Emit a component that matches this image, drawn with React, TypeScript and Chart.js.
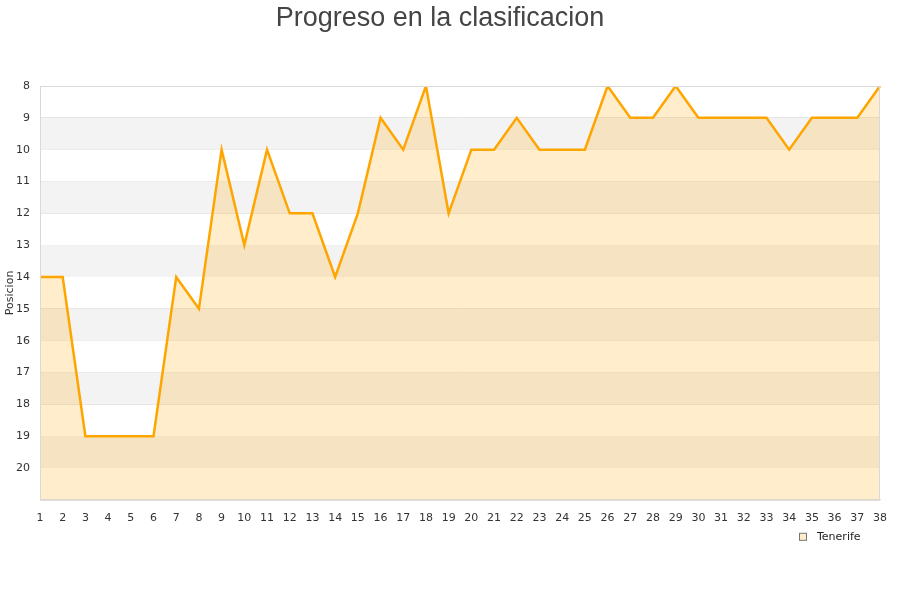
import React, { useEffect, useRef } from "react";
import { Chart, registerables } from "chart.js";

Chart.register(...registerables);

const rounds: string[] = Array.from({ length: 38 }, (_, i) => String(i + 1));
const positions: number[] = [
  14, 14, 19, 19, 19, 19, 14, 15, 10, 13,
  10, 12, 12, 14, 12, 9, 10, 8, 12, 10,
  10, 9, 10, 10, 10, 8, 9, 9, 8, 9,
  9, 9, 9, 10, 9, 9, 9, 8,
];
const greyBands: [number, number][] = [
  [9, 10], [11, 12], [13, 14], [15, 16], [17, 18], [19, 20],
];
const seriesName = "Tenerife";
const yMin = 8;
const yMax = 21;

const bandsPlugin = {
  id: "bands",
  beforeDatasetsDraw(chart: any) {
    const { ctx, chartArea, scales } = chart;
    const y = scales.y;
    ctx.save();
    ctx.fillStyle = "#f3f3f3";
    for (const [a, b] of greyBands) {
      const p1 = y.getPixelForValue(a);
      const p2 = y.getPixelForValue(b);
      ctx.fillRect(chartArea.left, Math.min(p1, p2), chartArea.right - chartArea.left, Math.abs(p2 - p1));
    }
    ctx.restore();
  },
  afterDraw(chart: any) {
    const { ctx, chartArea } = chart;
    ctx.save();
    ctx.strokeStyle = "#d9d9d9";
    ctx.lineWidth = 1;
    ctx.strokeRect(chartArea.left + 0.5, chartArea.top + 0.5, chartArea.right - chartArea.left - 1, chartArea.bottom - chartArea.top);
    // legend (bottom right)
    const lx = chartArea.right - 81;
    const ly = chartArea.bottom + 37;
    ctx.fillStyle = "#FFEDCC";
    ctx.strokeStyle = "#777";
    ctx.fillRect(lx, ly - 4, 8, 8);
    ctx.strokeRect(lx + 0.5, ly - 3.5, 7, 7);
    ctx.fillStyle = "#222";
    ctx.font = "11px 'DejaVu Sans', sans-serif";
    ctx.textBaseline = "middle";
    ctx.textAlign = "left";
    ctx.fillText(seriesName, lx + 18, ly);
    ctx.restore();
  },
};

export default function App() {
  const ref = useRef<HTMLCanvasElement>(null);
  useEffect(() => {
    if (!ref.current) return;
    const chart = new Chart(ref.current, {
      type: "line",
      data: {
        labels: rounds,
        datasets: [
          {
            label: seriesName,
            data: positions,
            borderColor: "#FFA500",
            backgroundColor: "rgba(255,165,0,0.2)",
            borderWidth: 2.5,
            pointRadius: 0,
            tension: 0,
            fill: { value: yMax },
          },
        ],
      },
      options: {
        animation: false,
        responsive: false,
        maintainAspectRatio: false,
        layout: { padding: { left: 0, right: 20, top: 0, bottom: 71 } },
        plugins: {
          title: {
            display: true,
            text: "Progreso en la clasificacion",
            color: "#444444",
            font: { family: "'Liberation Sans', Arial, sans-serif", size: 27, weight: "normal" },
            padding: { top: 2, bottom: 51.6 },
          },
          legend: { display: false },
          tooltip: { enabled: false },
        },
        scales: {
          x: {
            offset: false,
            grid: { display: false },
            border: { display: true, color: "#d9d9d9" },
            ticks: {
              color: "#333",
              font: { family: "'DejaVu Sans', sans-serif", size: 11 },
              maxRotation: 0,
              autoSkip: false,
              padding: 4,
            },
          },
          y: {
            reverse: true,
            min: yMin,
            max: yMax,
            afterFit: (axis: any) => {
              axis.width = 40;
            },
            grid: { color: "#e3e3e3", drawTicks: false },
            border: { display: true, color: "#d9d9d9" },
            title: {
              display: true,
              text: "Posicion",
              color: "#333",
              font: { family: "'DejaVu Sans', sans-serif", size: 11 },
              padding: { top: 4, bottom: 0 },
            },
            ticks: {
              stepSize: 1,
              color: "#333",
              font: { family: "'DejaVu Sans', sans-serif", size: 11 },
              padding: 10,
              callback: (v: any) => (Number(v) >= yMax ? "" : String(v)),
            },
          },
        },
      },
      plugins: [bandsPlugin],
    });
    return () => chart.destroy();
  }, []);
  return (
    <div style={{ position: "fixed", left: 0, top: 0, width: 900, height: 600, background: "#fff" }}>
      <canvas ref={ref} width={900} height={600} style={{ width: 900, height: 600 }} />
    </div>
  );
}
